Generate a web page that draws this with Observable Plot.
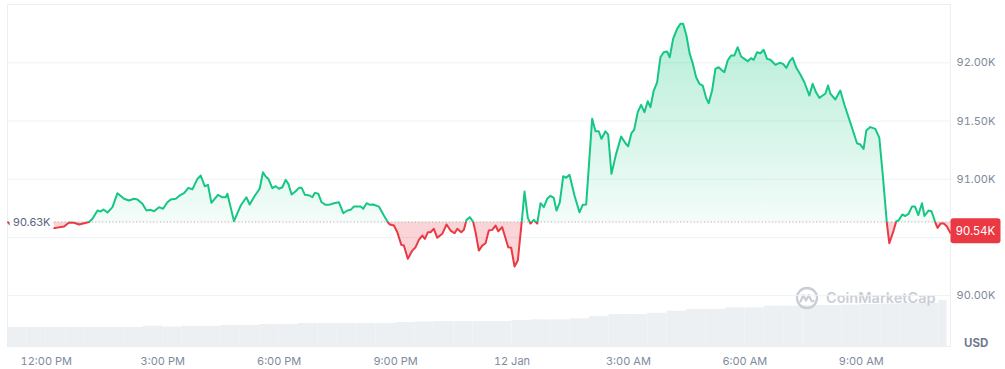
<!DOCTYPE html>
<html><head><meta charset="utf-8">
<script src="https://cdn.jsdelivr.net/npm/d3@7"></script>
<script src="https://cdn.jsdelivr.net/npm/@observablehq/plot@0.6"></script>
<style>
html,body{margin:0;padding:0;background:#fff;}
#wrap{position:relative;width:1005px;height:369px;font-family:Inter, sans-serif;overflow:hidden;}
#wrap svg.chart{position:absolute;left:0;top:0;}
.usd{position:absolute;left:964px;top:336px;font:700 11.5px Inter, sans-serif;line-height:15px;color:#6f7a8e;}
.wm{position:absolute;left:795px;top:286px;display:flex;align-items:center;color:#c9ced6;font:600 14.5px Inter, sans-serif;line-height:22px;}
.wm svg{margin-right:7px;}
</style></head><body><div id="wrap"></div>
<script>
// ---- data ----
// hours since 00:00 on 11 Jan
const hours = [11.016, 11.068, 11.652, 12.245, 12.458, 12.587, 12.716, 12.845, 12.973, 13.102,
 13.190, 13.319, 13.404, 13.473, 13.576, 13.705, 13.834, 14.004, 14.132, 14.261,
 14.349, 14.477, 14.580, 14.691, 14.776, 14.905, 15.008, 15.121, 15.206, 15.335,
 15.464, 15.549, 15.662, 15.765, 15.894, 15.979, 16.082, 16.167, 16.254, 16.424,
 16.538, 16.623, 16.666, 16.836, 17.009, 17.156, 17.241, 17.377, 17.498, 17.583,
 17.653, 17.722, 17.825, 17.910, 17.995, 18.083, 18.168, 18.237, 18.322, 18.425,
 18.510, 18.580, 18.665, 18.786, 18.855, 18.922, 19.010, 19.095, 19.198, 19.283,
 19.412, 19.541, 19.654, 19.757, 19.842, 19.927, 20.100, 20.169, 20.254, 20.339,
 20.426, 20.570, 20.699, 20.802, 20.854, 20.957, 21.045, 21.148, 21.214, 21.317,
 21.431, 21.516, 21.601, 21.688, 21.755, 21.833, 21.902, 21.987, 22.075, 22.203,
 22.314, 22.417, 22.520, 22.590, 22.693, 22.760, 22.829, 22.914, 23.002, 23.061,
 23.146, 23.234, 23.318, 23.403, 23.491, 23.576, 23.646, 23.748, 23.903, 23.980,
 24.065, 24.150, 24.246, 24.323, 24.408, 24.477, 24.562, 24.650, 24.735, 24.820,
 24.907, 24.992, 25.077, 25.147, 25.232, 25.320, 25.397, 25.482, 25.611, 25.739,
 25.824, 25.912, 26.066, 26.151, 26.236, 26.306, 26.409, 26.478, 26.563, 26.684,
 26.813, 26.924, 26.993, 27.078, 27.148, 27.241, 27.328, 27.413, 27.498, 27.568,
 27.653, 27.740, 27.825, 27.910, 27.998, 28.065, 28.152, 28.255, 28.340, 28.410,
 28.495, 28.580, 28.657, 28.745, 28.830, 28.915, 29.002, 29.069, 29.157, 29.242,
 29.327, 29.414, 29.473, 29.558, 29.646, 29.731, 29.816, 29.903, 29.988, 30.073,
 30.161, 30.228, 30.316, 30.401, 30.486, 30.573, 30.658, 30.787, 30.898, 30.985,
 31.070, 31.155, 31.232, 31.328, 31.431, 31.534, 31.663, 31.748, 31.835, 31.920,
 32.005, 32.075, 32.144, 32.203, 32.332, 32.461, 32.564, 32.718, 32.891, 32.976,
 33.061, 33.130, 33.233, 33.362, 33.465, 33.560, 33.658, 33.723, 33.833, 33.903,
 33.962, 34.058, 34.135, 34.220, 34.307, 34.385, 34.470, 34.565, 34.629, 34.735,
 34.812, 34.907, 34.967, 35.049, 35.126, 35.208, 35.294];

const prices = [90630, 90611, 90585, 90582, 90594, 90628, 90626, 90611, 90622, 90632,
 90660, 90731, 90722, 90740, 90714, 90760, 90880, 90832, 90817, 90832,
 90826, 90789, 90731, 90737, 90725, 90760, 90746, 90802, 90826, 90832,
 90866, 90880, 90926, 90914, 91003, 91032, 90940, 90952, 90797, 90866,
 90845, 90845, 90875, 90640, 90774, 90845, 90783, 90860, 90918, 91060,
 91023, 91003, 90923, 90940, 90918, 90931, 90995, 90960, 90869, 90897,
 90926, 90926, 90866, 90860, 90845, 90883, 90875, 90802, 90780, 90780,
 90794, 90802, 90708, 90731, 90737, 90765, 90765, 90746, 90794, 90780,
 90783, 90765, 90688, 90630, 90611, 90602, 90545, 90436, 90430, 90316,
 90387, 90416, 90479, 90516, 90488, 90545, 90545, 90574, 90497, 90531,
 90611, 90559, 90536, 90574, 90545, 90565, 90651, 90674, 90632, 90545,
 90387, 90430, 90450, 90559, 90565, 90602, 90553, 90588, 90416, 90411,
 90250, 90302, 90617, 90894, 90668, 90619, 90651, 90619, 90794, 90760,
 90832, 90857, 90840, 90731, 90802, 91026, 91012, 91038, 90860, 90716,
 90780, 90783, 91519, 91412, 91412, 91347, 91412, 91384, 91046, 91218,
 91367, 91309, 91283, 91395, 91424, 91576, 91639, 91576, 91670, 91619,
 91762, 91833, 92048, 92091, 92097, 92048, 92206, 92292, 92335, 92335,
 92235, 92077, 91997, 91876, 91820, 91805, 91699, 91653, 91762, 91948,
 91962, 91934, 91919, 92020, 92063, 92063, 92134, 92054, 92034, 92014,
 92040, 92026, 92091, 92082, 92112, 92034, 92026, 91983, 92000, 91991,
 91957, 92014, 92043, 91957, 91900, 91833, 91719, 91820, 91747, 91699,
 91719, 91734, 91805, 91736, 91685, 91762, 91642, 91487, 91309, 91298,
 91261, 91418, 91448, 91433, 91358, 91017, 90630, 90450, 90559, 90639,
 90645, 90697, 90684, 90703, 90765, 90765, 90692, 90794, 90684, 90731,
 90725, 90630, 90582, 90620, 90619, 90594, 90540];

const baselinePrice = 90632;           // price 24h ago (90.63K)
const gridTicks = [90000, 90500, 91000, 91500, 92000];
const yLabelTicks = [90000, 91000, 91500, 92000];   // 90.50K sits under the price tag
const xTickHours = [12, 15, 18, 21, 24, 27, 30, 33];
const xTickLabels = ["12:00 PM", "3:00 PM", "6:00 PM", "9:00 PM", "12 Jan", "3:00 AM", "6:00 AM", "9:00 AM"];

// volume bars (half-hour buckets, start hour), relative units
const volumeHours = [11.0, 11.5, 12.0, 12.5, 13.0, 13.5, 14.0, 14.5, 15.0, 15.5,
 16.0, 16.5, 17.0, 17.5, 18.0, 18.5, 19.0, 19.5, 20.0, 20.5,
 21.0, 21.5, 22.0, 22.5, 23.0, 23.5, 24.0, 24.5, 25.0, 25.5,
 26.0, 26.5, 27.0, 27.5, 28.0, 28.5, 29.0, 29.5, 30.0, 30.5,
 31.0, 31.5, 32.0, 32.5, 33.0, 33.5, 34.0, 34.5, 35.0];
const volumes = [19, 19, 19, 19, 19, 19, 19, 20.3, 19.5, 20.2,
 20.2, 21, 21, 22, 22, 23, 23, 23, 23, 23,
 24, 24.5, 25, 25, 25, 25, 26, 26.7, 26.7, 27.7,
 30, 32, 32, 33.3, 35.3, 37, 37, 38.7, 38.7, 40.3,
 40.3, 41, 41, 41.5, 42, 42.5, 43.3, 43.3, 46];

// ---- build ----
const data = hours.map((h, i) => ({h, p: prices[i]}));
const lastHour = hours[hours.length - 1];
const vol = volumeHours.map((h, i) => ({
  x1: h,
  x2: i < volumeHours.length - 1 ? volumeHours[i + 1] : lastHour - 0.08,
  v: volumes[i]
}));
const xDomain = [11.0, 35.3];
const W = 1005, H = 369, ML = 7, MR = 55, MT = 4, MB = 23;

const volChart = Plot.plot({
  width: W, height: H, marginLeft: ML, marginRight: MR, marginTop: 296, marginBottom: MB,
  style: {background: "transparent"},
  x: {domain: xDomain, axis: null},
  y: {domain: [0, 50], axis: null},
  marks: [
    Plot.rectY(vol, {x1: "x1", x2: "x2", y: "v", fill: "#edf0f3"})
  ]
});
volChart.setAttribute("class", "chart");

const priceChart = Plot.plot({
  width: W, height: H, marginLeft: ML, marginRight: MR, marginTop: MT, marginBottom: MB,
  style: {fontFamily: "Inter, sans-serif", fontSize: "11px", color: "#808a9d", background: "transparent", overflow: "visible"},
  x: {domain: xDomain, ticks: xTickHours, tickFormat: d => xTickLabels[xTickHours.indexOf(d)], tickSize: 0, tickPadding: 11, label: null},
  y: {domain: [89563, 92501], axis: "right", ticks: yLabelTicks, tickFormat: d => (d / 1000).toFixed(2) + "K", tickSize: 0, tickPadding: 6, label: null},
  marks: [
    Plot.ruleY(gridTicks, {stroke: "#eff2f5", strokeWidth: 1}),
    Plot.frame({stroke: "#eceff2"}),
    Plot.areaY(data, {x: "h", y1: () => baselinePrice, y2: "p", fill: "url(#upGrad)"}),
    Plot.areaY(data, {x: "h", y1: () => baselinePrice, y2: "p", fill: "#ea3943", fillOpacity: 0.22}),
    Plot.ruleY([baselinePrice], {stroke: "#a3abb8", strokeWidth: 1, strokeDasharray: "1,2.4"}),
    Plot.line(data, {x: "h", y: "p", stroke: "#16c784", strokeWidth: 2, strokeLinejoin: "round"}),
    Plot.line(data, {x: "h", y: "p", stroke: "#ea3943", strokeWidth: 2, strokeLinejoin: "round"}),
    Plot.text([data[0]], {x: "h", y: () => baselinePrice, text: () => (baselinePrice / 1000).toFixed(2) + "K",
      textAnchor: "start", dx: 5, fill: "#58667e", stroke: "white", strokeWidth: 8, fontSize: 11})
  ]
});
priceChart.setAttribute("class", "chart");

// clip green above / red below the baseline
const ys = priceChart.scale("y");
const y0 = ys.apply(baselinePrice);
const svg = d3.select(priceChart);
const defs = svg.insert("defs", ":first-child");
const grad = defs.append("linearGradient").attr("id", "upGrad").attr("gradientUnits", "userSpaceOnUse")
  .attr("x1", 0).attr("x2", 0).attr("y1", ys.apply(d3.max(prices))).attr("y2", y0);
grad.append("stop").attr("offset", 0).attr("stop-color", "#16c784").attr("stop-opacity", 0.32);
grad.append("stop").attr("offset", 1).attr("stop-color", "#16c784").attr("stop-opacity", 0.05);
defs.append("clipPath").attr("id", "clipUp").append("rect").attr("x", 0).attr("y", -10).attr("width", W).attr("height", y0 + 10);
defs.append("clipPath").attr("id", "clipDown").append("rect").attr("x", 0).attr("y", y0).attr("width", W).attr("height", H - y0);

priceChart.querySelectorAll("g").forEach(g => {
  const f = (g.getAttribute("fill") || "").toLowerCase();
  const s = (g.getAttribute("stroke") || "").toLowerCase();
  if (f === "url(#upgrad)" || s === "#16c784") g.setAttribute("clip-path", "url(#clipUp)");
  else if ((f === "#ea3943" && !s) || s === "#ea3943") g.setAttribute("clip-path", "url(#clipDown)");
});

// current price tag
const last = data[data.length - 1];
const yl = ys.apply(last.p);
const bx = W - MR;
svg.append("rect").attr("x", bx + 0.5).attr("y", yl - 14).attr("width", 50).attr("height", 25).attr("rx", 3).attr("fill", "#ea3943");
svg.append("text").attr("x", bx + 25.5).attr("y", yl - 1.5).attr("text-anchor", "middle").attr("dominant-baseline", "central")
  .attr("fill", "#fff").attr("font-size", 11.5).attr("font-family", "Inter, sans-serif").text((last.p / 1000).toFixed(2) + "K");

const wrap = document.getElementById("wrap");
wrap.appendChild(volChart);
const wm = document.createElement("div");
wm.className = "wm";
wm.innerHTML = '<svg width="24" height="24" viewBox="0 0 24 24"><circle cx="12" cy="12" r="10" fill="none" stroke="#c9ced6" stroke-width="2.3"/><path d="M5.5 15.5 L8.3 9.2 L11 14.5 L13.7 9.2 L16 14 Q17 16 18.6 14.8" fill="none" stroke="#c9ced6" stroke-width="2.2" stroke-linecap="round" stroke-linejoin="round"/></svg><span>CoinMarketCap</span>';
wrap.appendChild(wm);
wrap.appendChild(priceChart);
const usd = document.createElement("div");
usd.className = "usd";
usd.textContent = "USD";
wrap.appendChild(usd);
</script>
</body></html>
